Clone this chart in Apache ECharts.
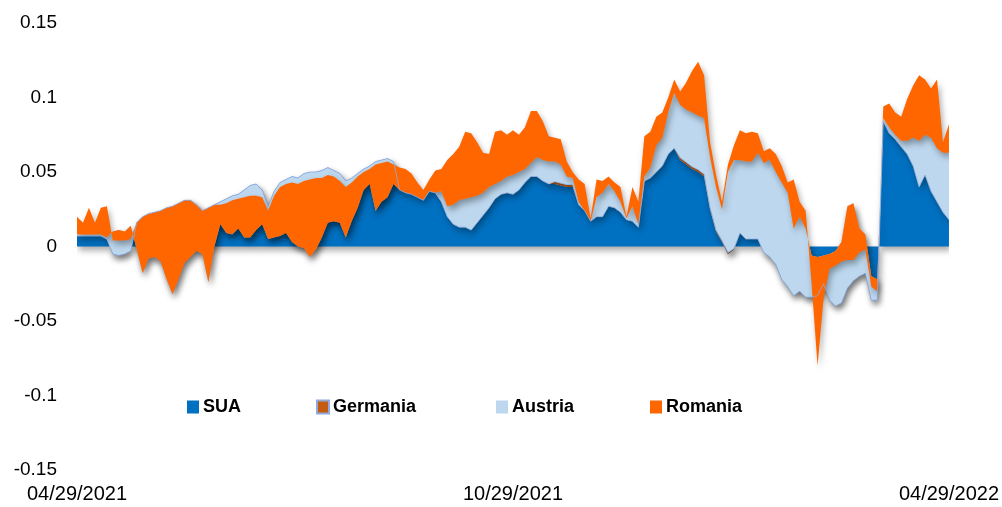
<!DOCTYPE html>
<html>
<head>
<meta charset="utf-8">
<script src="https://cdn.jsdelivr.net/npm/echarts@6/dist/echarts.min.js"></script>
<style>
html,body{margin:0;padding:0;background:#fff;}
#chart{width:1002px;height:507px;}
</style>
</head>
<body>
<div id="chart"></div>
<script>
// x-axis: 147 evenly spaced sample dates, 04/29/2021 .. 04/29/2022
const startDate = '2021-04-29';
const pointCount = 147;
const xTickLabels = ['04/29/2021', '10/29/2021', '04/29/2022'];
const xTickIndex = [0, 73, 146];
const yTickLabels = ['-0.15', '-0.1', '-0.05', '0', '0.05', '0.1', '0.15'];

const seriesNames = ['SUA', 'Germania', 'Austria', 'Romania'];

const sua = [
 0.007,0.007,0.007,0.007,0.007,0.005,-0.005,-0.006,-0.005,-0.003,
 0.016,0.020,0.022,0.023,0.024,0.026,0.027,0.029,0.031,0.031,
 0.028,0.024,0.026,0.028,0.030,0.032,0.034,0.035,0.038,0.041,
 0.042,0.038,0.027,0.037,0.043,0.045,0.047,0.046,0.049,0.050,
 0.050,0.051,0.053,0.051,0.049,0.044,0.046,0.049,0.052,0.054,
 0.057,0.058,0.059,0.057,0.038,0.036,0.035,0.033,0.031,0.037,
 0.036,0.030,0.020,0.015,0.013,0.013,0.011,0.016,0.021,0.026,
 0.032,0.035,0.036,0.035,0.038,0.043,0.047,0.047,0.044,0.042,
 0.042,0.041,0.040,0.040,0.028,0.024,0.017,0.020,0.020,0.027,
 0.026,0.023,0.018,0.017,0.013,0.044,0.046,0.050,0.054,0.062,
 0.066,0.058,0.055,0.052,0.050,0.047,0.025,0.010,0.003,-0.005,
 -0.002,0.009,0.005,0.005,0.005,-0.004,-0.007,-0.012,-0.022,-0.027,
 -0.033,-0.030,-0.034,-0.034,-0.033,-0.025,-0.036,-0.040,-0.038,-0.028,
 -0.023,-0.020,-0.018,-0.036,-0.036,0.084,0.076,0.072,0.067,0.062,
 0.054,0.040,0.048,0.037,0.030,0.023,0.018
];

const germania = [
 0,0,0,0,0,0,0,0,0,0,
 0,0,0,0,0,0,0,0,0,0,
 0,0,0,0,0,0,0,0,0,0,
 0,0,0,0,0,0,0,0,0,0,
 0,0,0,0,0,0,0,0,0,0,
 0,0,0,0,0,0,0,0,0,0,
 0,0,0,0,0,0,0,0,0,0,
 0,0,0,0,0,0,0,0,0,0,
 0.0015,0.0015,0.0015,0.0015,0,0,0,0,0,0,
 0,0,0,0,0,0,0,0,0,0,
 0,0.0015,0.0015,0.0015,0.0015,0.0015,0.001,0.001,0.001,0.001,
 0.0005,0,0,0,0,0,0,0,0,0,
 0,0,0,0,0,0,0,0,0,0,
 0,0,0,0,0,0,0,0,0,0,
 0,0,0,0,0,0,0
];

const austria = [
 0.001,0.001,0.001,0.001,0.001,0.001,0.015,0.017,0.015,0.017,
 -0.018,-0.038,-0.030,-0.030,-0.034,-0.048,-0.059,-0.051,-0.042,-0.038,
 -0.031,-0.029,-0.050,-0.028,-0.015,-0.023,-0.026,-0.023,-0.032,-0.035,
 -0.031,-0.023,-0.022,-0.031,-0.036,-0.036,-0.044,-0.046,-0.050,-0.057,
 -0.052,-0.045,-0.037,-0.034,-0.033,-0.038,-0.029,-0.023,-0.014,-0.012,
 -0.033,-0.028,-0.026,-0.015,0,0,0,0,0,0,
 0,0.007,0.007,0.013,0.018,0.019,0.022,0.018,0.015,0.014,
 0.010,0.009,0.011,0.013,0.012,0.009,0.009,0.013,0.014,0.015,
 0.0135,0.0125,0.0055,0.0045,0.002,0,0,0.013,0.016,0.015,
 0.011,0.007,0.001,0.010,0.002,0.003,0.007,0.018,0.019,0.028,
 0.037,0.0355,0.0355,0.0365,0.0365,0.0375,0.034,0.029,0.021,0.054,
 0.0595,0.049,0.052,0.052,0.058,0.060,0.065,0.062,0.065,0.063,
 0.045,0.050,0.046,0.028,0.026,0.019,0.031,0.037,0.041,0.055,
 0.052,0.032,0.026,0.016,0.014,0.002,0.004,0.003,0.004,0.009,
 0.019,0.031,0.027,0.036,0.036,0.040,0.045
];

const romania = [
 0.012,0.008,0.018,0.008,0.018,0.021,-0.006,-0.007,-0.006,-0.009,
 0.018,0.038,0.030,0.030,0.034,0.048,0.059,0.051,0.042,0.038,
 0.031,0.029,0.050,0.028,0.013,0.020,0.023,0.020,0.027,0.028,
 0.023,0.018,0.019,0.028,0.033,0.033,0.040,0.042,0.045,0.052,
 0.048,0.040,0.032,0.030,0.028,0.034,0.026,0.021,0.012,0.010,
 0.031,0.026,0.024,0.013,0.015,0.016,0.014,0.010,0.007,0.008,
 0.015,0.015,0.031,0.034,0.036,0.045,0.043,0.036,0.027,0.022,
 0.035,0.034,0.028,0.030,0.025,0.028,0.035,0.031,0.026,0.017,
 0.016,0.017,0.010,0.004,0.015,0.018,0.002,0.012,0.008,0.005,
 0.006,0.010,0.001,0.013,0.015,0.027,0.024,0.019,0.017,0.010,
 0.009,0.009,0.018,0.028,0.036,0.029,0.010,0.008,0.005,0.005,
 0.010,0.020,0.019,0.020,0.013,0.008,0.008,0.012,0.011,0.007,
 0.033,0.010,0.012,-0.019,-0.073,-0.029,-0.010,-0.010,-0.013,-0.036,
 -0.038,-0.016,-0.010,-0.007,-0.008,0.008,0.016,0.015,0.016,0.028,
 0.035,0.044,0.037,0.033,0.046,0.007,0.019
];

const colors = {
  SUA: '#0070C0',
  Germania: '#C55A11',
  Austria: '#BDD7EE',
  Romania: '#FF6600'
};

// build category dates
function fmt(d){
  const mm = String(d.getUTCMonth()+1).padStart(2,'0');
  const dd = String(d.getUTCDate()).padStart(2,'0');
  return mm + '/' + dd + '/' + d.getUTCFullYear();
}
const t0 = Date.parse(startDate + 'T00:00:00Z');
const categories = [];
for (let i = 0; i < pointCount; i++) {
  categories.push(fmt(new Date(t0 + Math.round(i * 365 / (pointCount - 1)) * 86400000)));
}

const dataByName = {SUA: sua, Germania: germania, Austria: austria, Romania: romania};
const FONT = 'Liberation Sans';

const shadow = {shadowColor: 'rgba(0,0,0,0.34)', shadowBlur: 6, shadowOffsetX: 2, shadowOffsetY: 4};

const series = seriesNames.map(function(name){
  const isGer = name === 'Germania';
  return {
    name: name,
    type: 'line',
    stack: 'total',
    stackStrategy: 'all',
    data: dataByName[name],
    showSymbol: false,
    symbol: 'none',
    smooth: false,
    animation: false,
    color: colors[name],
    lineStyle: isGer ? {width: 0.8, color: '#8FAADC'} : {width: 0, opacity: 0},
    areaStyle: Object.assign({color: colors[name], opacity: 1}, shadow),
    emphasis: {disabled: true}
  };
});

const legendLefts = {SUA: 187, Germania: 316, Austria: 496, Romania: 650};
const legends = seriesNames.map(function(name){
  return {
    data: [{
      name: name,
      icon: 'rect',
      itemStyle: name === 'Germania'
        ? {color: colors[name], borderColor: '#8FAADC', borderWidth: 2}
        : {color: colors[name], borderWidth: 0}
    }],
    left: legendLefts[name],
    top: 398,
    padding: 0,
    itemWidth: 12,
    itemHeight: 13,
    itemGap: 5,
    selectedMode: false,
    textStyle: {fontFamily: FONT, fontWeight: 'bold', fontSize: 18, color: '#000', padding: [0,0,0,-1]}
  };
});

const chart = echarts.init(document.getElementById('chart'), null, {renderer: 'canvas'});
chart.setOption({
  animation: false,
  backgroundColor: '#fff',
  grid: {left: 77, right: 47, top: 23, bottom: 37, containLabel: false},
  legend: legends,
  xAxis: {
    type: 'category',
    data: categories,
    boundaryGap: false,
    axisLine: {show: false, onZero: false},
    axisTick: {show: false},
    splitLine: {show: false},
    axisLabel: {
      interval: function(index){ return xTickIndex.indexOf(index) >= 0; },
      formatter: function(value, index){
        const k = xTickIndex.indexOf(index);
        return k >= 0 ? xTickLabels[k] : '';
      },
      fontFamily: FONT, fontSize: 20, color: '#000', margin: 14,
      showMinLabel: true, showMaxLabel: true
    }
  },
  yAxis: {
    type: 'value',
    min: -0.15, max: 0.15, interval: 0.05,
    axisLine: {show: false},
    axisTick: {show: false},
    splitLine: {show: false},
    axisLabel: {
      fontFamily: FONT, fontSize: 19, color: '#000', margin: 20,
      formatter: function(v){
        const k = Math.round((v + 0.15) / 0.05);
        return yTickLabels[k];
      }
    }
  },
  series: series
});
</script>
</body>
</html>
